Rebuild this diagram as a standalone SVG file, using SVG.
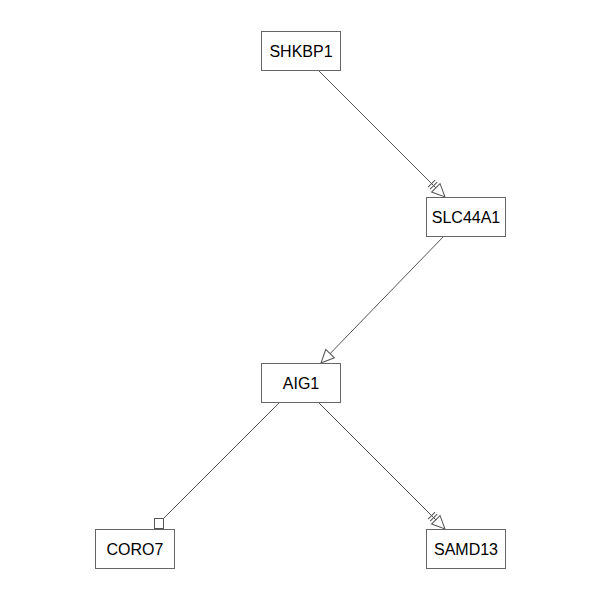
<svg xmlns="http://www.w3.org/2000/svg" width="600" height="600" viewBox="0 0 600 600">
<style>
.node rect{fill:#fff;stroke:#666;stroke-width:1}
.node text{font-family:"Liberation Sans",Arial,sans-serif;font-size:16px;fill:#000;text-anchor:middle;dominant-baseline:central}
.edge{stroke:#555;stroke-width:1;fill:none}
.mk{fill:#fff;stroke:#555;stroke-width:1}
</style>
<defs>
<marker id="tri" markerUnits="userSpaceOnUse" viewBox="-22 -8 24 16" refX="0" refY="0" markerWidth="24" markerHeight="16" orient="auto" overflow="visible">
<path class="mk" d="M0,0 L-13,-6 L-13,6 Z"/>
</marker>
<marker id="tribar" markerUnits="userSpaceOnUse" viewBox="-22 -8 24 16" refX="0" refY="0" markerWidth="24" markerHeight="16" orient="auto" overflow="visible">
<path class="mk" d="M-16,-5 L-16,5 M-19,-5 L-19,5"/>
<path class="mk" d="M0,0 L-13,-6 L-13,6 Z"/>
</marker>
</defs>
<rect width="600" height="600" fill="#fff"/>
<g id="connectors">
<line class="edge" x1="318" y1="70" x2="445" y2="197" marker-end="url(#tribar)"/>
<line class="edge" x1="444" y1="236" x2="321" y2="363" marker-end="url(#tri)"/>
<line class="edge" x1="280" y1="402" x2="163" y2="519"/>
<rect class="mk" x="154.5" y="518.5" width="9" height="10"/>
<line class="edge" x1="318" y1="402" x2="445" y2="529" marker-end="url(#tribar)"/>
</g>
<g id="SHKBP1" class="node"><rect x="261.5" y="31.5" width="79" height="39"/><text x="301" y="51">SHKBP1</text></g>
<g id="SLC44A1" class="node"><rect x="426.5" y="197.5" width="79" height="39"/><text x="466" y="217">SLC44A1</text></g>
<g id="AIG1" class="node"><rect x="261.5" y="363.5" width="79" height="39"/><text x="301" y="383">AIG1</text></g>
<g id="CORO7" class="node"><rect x="95.5" y="529.5" width="79" height="39"/><text x="135" y="549">CORO7</text></g>
<g id="SAMD13" class="node"><rect x="426.5" y="529.5" width="79" height="39"/><text x="466" y="549">SAMD13</text></g>
</svg>
